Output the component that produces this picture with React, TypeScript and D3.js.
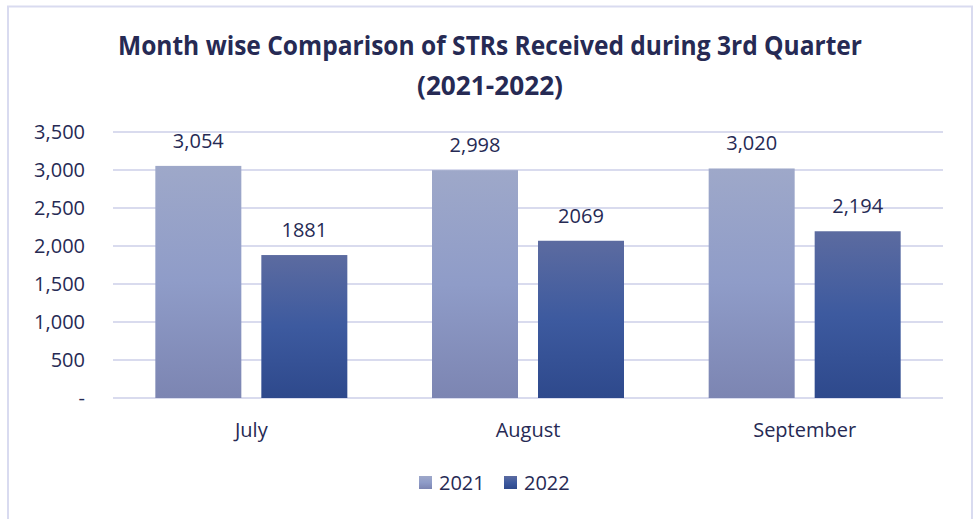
import React from "react";
import * as d3 from "d3";

const months = ["July", "August", "September"];
const series = ["2021", "2022"];
const values2021 = [3054, 2998, 3020];
const values2022 = [1881, 2069, 2194];
const labels2021 = ["3,054", "2,998", "3,020"];
const labels2022 = ["1881", "2069", "2,194"];
const yTicks = [0, 500, 1000, 1500, 2000, 2500, 3000, 3500];
const yTickLabels = ["-", "500", "1,000", "1,500", "2,000", "2,500", "3,000", "3,500"];
const titleLines = ["Month wise Comparison of STRs Received during 3rd Quarter", "(2021-2022)"];

const W = 979;
const H = 519;
const plotLeft = 113;
const plotRight = 943;
const plotTop = 132;
const plotBottom = 398;
const textColor = "#262A54";
const gridColor = "#D9DBEE";
const font = "'Open Sans', sans-serif";

const gradStops: Record<string, string[]> = {
  "2021": ["#9EA8C9", "#8F9CC8", "#7C85B2"],
  "2022": ["#5C6BA0", "#3D5A9F", "#2E498C"],
};

export default function App() {
  const x0 = d3.scaleBand<string>().domain(months).range([plotLeft, plotRight]).paddingInner(0).paddingOuter(0);
  const bw = x0.bandwidth();
  const step = 106;
  const pi = 20 / 106;
  const po = (bw / step - (series.length - pi)) / 2;
  const x1 = d3.scaleBand<string>().domain(series).range([0, bw]).paddingInner(pi).paddingOuter(po);
  const y = d3.scaleLinear().domain([0, 3500]).range([plotBottom, plotTop]);

  const data = months.map((m, i) => ({
    month: m,
    bars: [
      { s: "2021", v: values2021[i], label: labels2021[i] },
      { s: "2022", v: values2022[i], label: labels2022[i] },
    ],
  }));

  return (
    <svg width={W} height={H} style={{ position: "absolute", left: 0, top: 0, background: "#fff" }}>
      <defs>
        {series.map((s) => (
          <linearGradient key={s} id={`g${s}`} x1="0" y1="0" x2="0" y2="1">
            <stop offset="0%" stopColor={gradStops[s][0]} />
            <stop offset="50%" stopColor={gradStops[s][1]} />
            <stop offset="100%" stopColor={gradStops[s][2]} />
          </linearGradient>
        ))}
      </defs>
      <rect x={0} y={0} width={W} height={H} fill="#fff" />
      <rect x={8} y={6.5} width={964} height={H + 10} fill="none" stroke="#D9DBF0" strokeWidth={2} />
      <text x={490} y={55} textAnchor="middle" fontFamily={font} fontWeight={700} fontSize={27} fill={textColor}
        textLength={744} lengthAdjust="spacingAndGlyphs">
        {titleLines[0]}
      </text>
      <text x={490} y={95} textAnchor="middle" fontFamily={font} fontWeight={700} fontSize={27} fill={textColor}
        textLength={146} lengthAdjust="spacingAndGlyphs">
        {titleLines[1]}
      </text>
      {yTicks.map((t, i) => (
        <g key={t}>
          <line x1={plotLeft} x2={plotRight} y1={y(t)} y2={y(t)} stroke={gridColor} strokeWidth={1.8} />
          <text x={85} y={y(t)} dy="0.35em" textAnchor="end" fontFamily={font} fontSize={20} fill={textColor}>
            {yTickLabels[i]}
          </text>
        </g>
      ))}
      {data.map((d) => (
        <g key={d.month} transform={`translate(${x0(d.month)},0)`}>
          {d.bars.map((b) => (
            <g key={b.s}>
              <rect x={x1(b.s)} y={y(b.v)} width={x1.bandwidth()} height={y(0) - y(b.v)} fill={`url(#g${b.s})`} />
              <text x={(x1(b.s) as number) + x1.bandwidth() / 2} y={y(b.v) - 18} textAnchor="middle"
                fontFamily={font} fontSize={20} fill={textColor}>
                {b.label}
              </text>
            </g>
          ))}
          <text x={bw / 2} y={437} textAnchor="middle" fontFamily={font} fontSize={20} fill={textColor}>
            {d.month}
          </text>
        </g>
      ))}
      {series.map((s, i) => {
        const lx = 419 + i * 85;
        return (
          <g key={s}>
            <rect x={lx} y={476} width={13} height={13} fill={`url(#g${s})`} />
            <text x={lx + 20} y={490} fontFamily={font} fontSize={20} fill={textColor}>{s}</text>
          </g>
        );
      })}
    </svg>
  );
}
